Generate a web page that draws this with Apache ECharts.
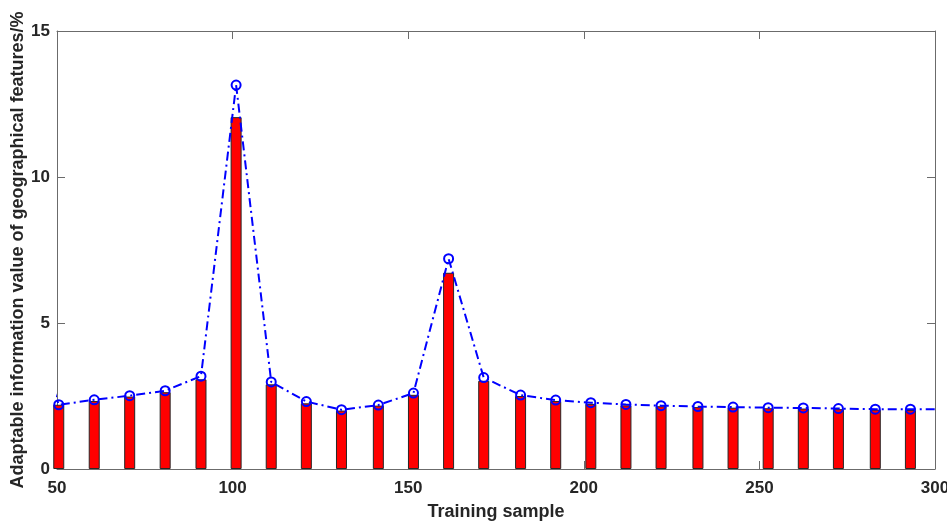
<!DOCTYPE html>
<html>
<head>
  <meta charset="utf-8">
  <title>chart</title>
  <script src="https://cdn.jsdelivr.net/npm/echarts@6/dist/echarts.min.js"></script>
  <style>
    html, body {
      margin: 0;
      padding: 0;
      background: #fff;
    }
    #chart {
      width: 947px;
      height: 521px;
    }
  </style>
</head>
<body>
<div id="chart"></div>
<script>
  // training sample numbers (x)
  var dataX = [50.5, 60.6, 70.7, 80.8, 91, 101, 111, 121, 131, 141.5, 151.5, 161.5, 171.5,
    182, 192, 202, 212, 222, 232.5, 242.5, 252.5, 262.5, 272.5, 283, 293];
  // red bars
  var dataY_bar = [2.2, 2.33, 2.48, 2.63, 3.07, 12.05, 2.9, 2.25, 2.0, 2.17, 2.54, 6.72, 3.02,
    2.5, 2.33, 2.23, 2.18, 2.15, 2.12, 2.1, 2.08, 2.07, 2.05, 2.03, 2.02];
  // blue dash-dot line with circles
  var dataY_line = [2.2, 2.37, 2.51, 2.68, 3.18, 13.15, 2.98, 2.31, 2.03, 2.19, 2.6, 7.2, 3.13,
    2.53, 2.36, 2.27, 2.21, 2.17, 2.14, 2.12, 2.1, 2.09, 2.07, 2.05, 2.05];
  // the line runs on past both ends of the axis (clipped)
  var lineHead = [49, 2.75];
  var lineTail = [304, 2.04];

  var xTicks = [50, 100, 150, 200, 250, 300];
  var yTicks = [0, 5, 10, 15];

  var barData = [];
  var lineData = [lineHead];
  for (var i = 0; i < dataX.length; i++) {
    barData.push([dataX[i], dataY_bar[i]]);
    lineData.push([dataX[i], dataY_line[i]]);
  }
  lineData.push(lineTail);

  var font = 'Liberation Sans, Arial, sans-serif';
  var textColor = '#262626';
  var lineColor = '#6b6b6b';

  var chart = echarts.init(document.getElementById('chart'));
  var options = {
    animation: false,
    grid: {
      left: 57,
      right: 12,
      top: 31,
      bottom: 52,
      outerBoundsMode: 'none'
    },
    xAxis: [
      {
        type: 'value',
        position: 'bottom',
        min: xTicks[0],
        max: xTicks[xTicks.length - 1],
        interval: 50,
        name: 'Training sample',
        nameLocation: 'middle',
        nameGap: 34,
        nameMoveOverlap: false,
        nameTextStyle: {fontFamily: font, fontWeight: 'bold', fontSize: 18, color: textColor},
        axisLine: {show: true, onZero: false, lineStyle: {color: lineColor, width: 1}},
        axisTick: {show: true, inside: true, length: 8, lineStyle: {color: lineColor}},
        axisLabel: {fontFamily: font, fontWeight: 'bold', fontSize: 17, color: textColor, margin: 11},
        splitLine: {show: false}
      },
      {
        type: 'value',
        position: 'top',
        min: xTicks[0],
        max: xTicks[xTicks.length - 1],
        interval: 50,
        axisLine: {show: true, onZero: false, lineStyle: {color: lineColor, width: 1}},
        axisTick: {show: true, inside: true, length: 8, lineStyle: {color: lineColor}},
        axisLabel: {show: false},
        splitLine: {show: false}
      }
    ],
    yAxis: [
      {
        type: 'value',
        position: 'left',
        min: yTicks[0],
        max: yTicks[yTicks.length - 1],
        interval: 5,
        name: 'Adaptable information value of geographical features/%',
        nameLocation: 'middle',
        nameGap: 30,
        nameMoveOverlap: false,
        nameTextStyle: {fontFamily: font, fontWeight: 'bold', fontSize: 18, color: textColor},
        axisLine: {show: true, onZero: false, lineStyle: {color: lineColor, width: 1}},
        axisTick: {show: true, inside: true, length: 8, lineStyle: {color: lineColor}},
        axisLabel: {fontFamily: font, fontWeight: 'bold', fontSize: 17, color: textColor, margin: 7},
        splitLine: {show: false}
      },
      {
        type: 'value',
        position: 'right',
        min: yTicks[0],
        max: yTicks[yTicks.length - 1],
        interval: 5,
        axisLine: {show: true, onZero: false, lineStyle: {color: lineColor, width: 1}},
        axisTick: {show: true, inside: true, length: 8, lineStyle: {color: lineColor}},
        axisLabel: {show: false},
        splitLine: {show: false}
      }
    ],
    series: [
      {
        type: 'bar',
        data: barData,
        barWidth: 11,
        clip: true,
        itemStyle: {color: '#ff0000', borderColor: '#262626', borderWidth: 1}
      },
      {
        type: 'line',
        data: lineData,
        clip: true,
        symbol: 'circle',
        symbolSize: 9,
        showAllSymbol: true,
        itemStyle: {color: 'rgba(0,0,0,0)', borderColor: '#0000ff', borderWidth: 2},
        lineStyle: {color: '#0000ff', width: 2, type: [9, 4, 2, 4]},
        z: 3
      }
    ]
  };
  chart.setOption(options);
</script>
</body>
</html>
